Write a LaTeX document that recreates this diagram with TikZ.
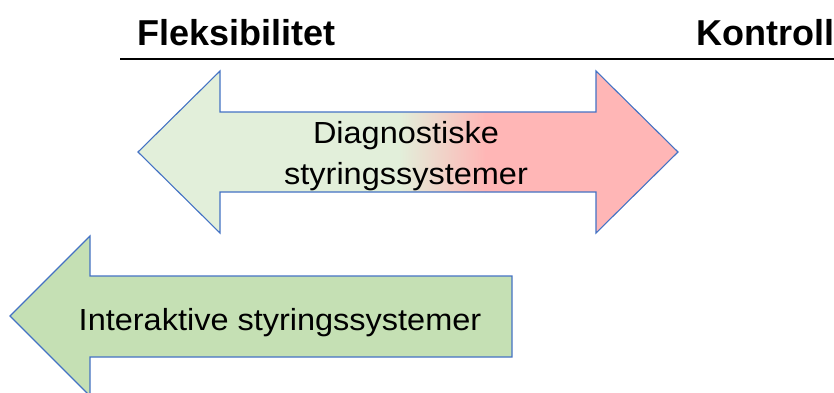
\documentclass[tikz,border=0pt]{standalone}
\usepackage{fontspec}
\setmainfont{Liberation Sans}
\definecolor{edgeblue}{RGB}{68,114,196}
\definecolor{palegreen}{RGB}{226,239,218}
\definecolor{softpink}{RGB}{255,182,182}
\definecolor{leafgreen}{RGB}{197,224,180}
\tikzset{
  outline/.style={draw=edgeblue, line width=1.1pt, line join=miter},
  heading/.style={font=\fontsize{36}{40}\selectfont\bfseries, inner sep=0pt, anchor=base west},
  bodytext/.style={font=\fontsize{30.5}{41}\selectfont, inner sep=0pt, anchor=base, xscale=1.065}
}
\begin{document}
\begin{tikzpicture}[x=1pt, y=-1pt]
  \useasboundingbox (0,0) rectangle (834,392);

  % headings and rule
  \node[heading] (flex) at (137,45) {Fleksibilitet};
  \node[heading] (ctrl) at (696,45) {Kontroll};
  \coordinate (ruleL) at (120,59);
  \coordinate (ruleR) at (834,59);
  \draw[line width=1.3pt] (ruleL) -- (ruleR);

  % double-headed arrow, green fading to pink
  \def\diagarrow{(138,152) -- (220,71) -- (220,112) -- (596,112) -- (596,71)
    -- (678,152) -- (596,233) -- (596,192) -- (220,192) -- (220,233) -- cycle}
  \begin{scope}
    \clip \diagarrow;
    \fill[palegreen] (130,60) rectangle (400,240);
    \shade[left color=palegreen, right color=softpink] (399,60) rectangle (486,240);
    \fill[softpink] (485,60) rectangle (690,240);
  \end{scope}
  \draw[outline] \diagarrow;
  \node[bodytext] (diag1) at (406,143.5) {Diagnostiske};
  \node[bodytext] (diag2) at (406,184) {styringssystemer};

  % left-pointing arrow
  \draw[outline, fill=leafgreen] (10,316) -- (90,236) -- (90,276) -- (512,276)
    -- (512,357) -- (90,357) -- (90,396) -- cycle;
  \node[bodytext] (inter) at (280,330) {Interaktive styringssystemer};
\end{tikzpicture}
\end{document}
